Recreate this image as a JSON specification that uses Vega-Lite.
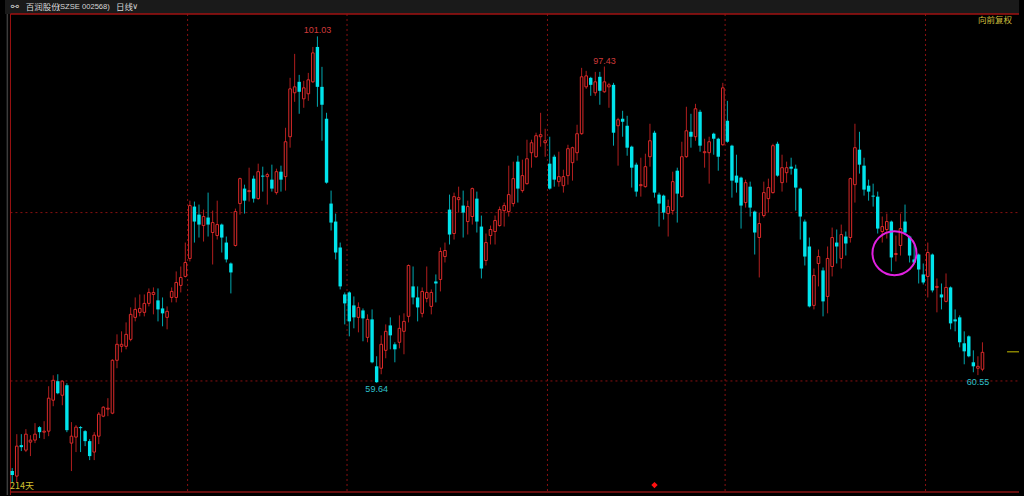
{
"$schema":"https://vega.github.io/schema/vega-lite/v6.json",
"width":1024,"height":496,"autosize":{"type":"fit","contains":"padding"},"padding":0,
"background":"#000000",
"config":{"view":{"stroke":null}},
"datasets":{
"k":[
{"i":0,"o":49.08,"c":48.60,"h":49.44,"l":47.65},
{"i":1,"o":48.48,"c":52.06,"h":53.49,"l":47.65},
{"i":2,"o":52.18,"c":51.94,"h":53.49,"l":51.47},
{"i":3,"o":51.58,"c":53.49,"h":54.09,"l":51.35},
{"i":4,"o":52.54,"c":52.78,"h":53.37,"l":50.87},
{"i":5,"o":52.78,"c":53.49,"h":54.81,"l":52.42},
{"i":6,"o":54.33,"c":53.73,"h":54.45,"l":53.02},
{"i":7,"o":53.73,"c":53.85,"h":55.04,"l":52.90},
{"i":8,"o":53.85,"c":57.79,"h":59.22,"l":53.25},
{"i":9,"o":57.55,"c":59.93,"h":60.53,"l":56.83},
{"i":10,"o":59.82,"c":58.38,"h":60.65,"l":58.26},
{"i":11,"o":58.14,"c":59.82,"h":59.93,"l":56.95},
{"i":12,"o":59.34,"c":53.97,"h":59.58,"l":53.73},
{"i":13,"o":52.42,"c":53.25,"h":54.93,"l":49.08},
{"i":14,"o":53.14,"c":54.33,"h":54.57,"l":51.35},
{"i":15,"o":54.33,"c":54.21,"h":54.45,"l":51.35},
{"i":16,"o":53.85,"c":52.66,"h":53.97,"l":52.06},
{"i":17,"o":52.66,"c":50.87,"h":52.90,"l":50.39},
{"i":18,"o":51.35,"c":53.37,"h":53.73,"l":50.39},
{"i":19,"o":53.25,"c":55.88,"h":56.12,"l":52.30},
{"i":20,"o":55.64,"c":56.71,"h":56.83,"l":55.52},
{"i":21,"o":56.48,"c":56.59,"h":57.79,"l":55.64},
{"i":22,"o":56.00,"c":62.32,"h":62.44,"l":55.88},
{"i":23,"o":62.32,"c":64.23,"h":65.42,"l":61.37},
{"i":24,"o":63.99,"c":64.23,"h":65.78,"l":63.27},
{"i":25,"o":63.99,"c":65.42,"h":66.85,"l":63.63},
{"i":26,"o":64.82,"c":67.81,"h":68.64,"l":64.59},
{"i":27,"o":67.45,"c":68.40,"h":69.83,"l":66.97},
{"i":28,"o":68.05,"c":68.52,"h":70.19,"l":67.57},
{"i":29,"o":68.05,"c":69.12,"h":70.19,"l":67.57},
{"i":30,"o":69.12,"c":70.43,"h":70.91,"l":68.76},
{"i":31,"o":70.19,"c":70.43,"h":71.03,"l":67.81},
{"i":32,"o":69.48,"c":68.40,"h":70.91,"l":66.97},
{"i":33,"o":68.52,"c":67.93,"h":69.83,"l":66.38},
{"i":34,"o":67.45,"c":68.17,"h":68.76,"l":66.02},
{"i":35,"o":69.83,"c":70.55,"h":71.03,"l":69.24},
{"i":36,"o":69.83,"c":71.62,"h":72.94,"l":69.24},
{"i":37,"o":71.27,"c":72.22,"h":73.53,"l":70.43},
{"i":38,"o":72.34,"c":74.01,"h":76.39,"l":72.22},
{"i":39,"o":74.49,"c":80.81,"h":81.40,"l":74.13},
{"i":40,"o":80.69,"c":78.90,"h":81.29,"l":76.39},
{"i":41,"o":79.73,"c":78.54,"h":80.93,"l":76.99},
{"i":42,"o":78.42,"c":79.50,"h":80.33,"l":76.51},
{"i":43,"o":79.38,"c":78.54,"h":82.36,"l":77.11},
{"i":44,"o":77.59,"c":78.78,"h":80.21,"l":73.77},
{"i":45,"o":77.23,"c":78.54,"h":81.40,"l":76.75},
{"i":46,"o":78.54,"c":76.99,"h":78.66,"l":75.20},
{"i":47,"o":76.39,"c":74.37,"h":77.11,"l":74.01},
{"i":48,"o":73.89,"c":72.82,"h":74.01,"l":70.31},
{"i":49,"o":76.04,"c":80.09,"h":80.45,"l":75.92},
{"i":50,"o":81.05,"c":84.03,"h":84.15,"l":79.73},
{"i":51,"o":82.84,"c":81.40,"h":83.31,"l":79.85},
{"i":52,"o":82.48,"c":82.60,"h":85.34,"l":81.29},
{"i":53,"o":84.03,"c":81.64,"h":84.39,"l":81.17},
{"i":54,"o":81.64,"c":84.86,"h":85.82,"l":81.52},
{"i":55,"o":84.39,"c":84.27,"h":85.46,"l":82.48},
{"i":56,"o":84.27,"c":84.51,"h":84.74,"l":80.93},
{"i":57,"o":83.91,"c":82.84,"h":85.70,"l":82.48},
{"i":58,"o":82.36,"c":84.86,"h":85.22,"l":82.12},
{"i":59,"o":84.86,"c":83.91,"h":85.58,"l":82.48},
{"i":60,"o":84.27,"c":88.44,"h":90.11,"l":82.60},
{"i":61,"o":89.04,"c":94.76,"h":96.08,"l":87.73},
{"i":62,"o":94.29,"c":95.00,"h":98.94,"l":93.21},
{"i":63,"o":95.60,"c":94.41,"h":96.43,"l":91.78},
{"i":64,"o":93.57,"c":94.88,"h":95.72,"l":92.50},
{"i":65,"o":94.17,"c":95.84,"h":96.67,"l":93.33},
{"i":66,"o":95.60,"c":99.06,"h":99.77,"l":95.48},
{"i":67,"o":99.77,"c":95.00,"h":101.03,"l":92.62},
{"i":68,"o":95.00,"c":92.86,"h":97.39,"l":88.56},
{"i":69,"o":91.19,"c":83.55,"h":91.90,"l":83.43},
{"i":70,"o":81.05,"c":78.78,"h":82.60,"l":77.83},
{"i":71,"o":78.90,"c":75.20,"h":79.85,"l":74.37},
{"i":72,"o":75.80,"c":71.15,"h":76.39,"l":70.79},
{"i":73,"o":70.19,"c":69.12,"h":70.43,"l":66.61},
{"i":74,"o":70.43,"c":66.97,"h":70.55,"l":65.18},
{"i":75,"o":68.88,"c":67.45,"h":69.95,"l":66.14},
{"i":76,"o":67.45,"c":68.64,"h":69.24,"l":65.66},
{"i":77,"o":68.28,"c":67.33,"h":68.52,"l":64.59},
{"i":78,"o":65.06,"c":67.21,"h":67.81,"l":64.47},
{"i":79,"o":67.21,"c":62.08,"h":68.40,"l":61.96},
{"i":80,"o":61.60,"c":59.70,"h":62.80,"l":59.64},
{"i":81,"o":61.37,"c":64.23,"h":65.30,"l":60.65},
{"i":82,"o":63.51,"c":65.78,"h":66.61,"l":62.56},
{"i":83,"o":66.49,"c":65.30,"h":67.45,"l":63.63},
{"i":84,"o":64.23,"c":63.63,"h":64.47,"l":62.08},
{"i":85,"o":64.47,"c":66.14,"h":67.69,"l":63.75},
{"i":86,"o":65.78,"c":66.97,"h":67.93,"l":63.04},
{"i":87,"o":67.57,"c":73.65,"h":73.77,"l":66.85},
{"i":88,"o":71.15,"c":69.83,"h":73.53,"l":69.00},
{"i":89,"o":69.83,"c":68.64,"h":71.15,"l":66.97},
{"i":90,"o":67.93,"c":70.55,"h":71.03,"l":67.45},
{"i":91,"o":69.72,"c":70.43,"h":73.53,"l":69.24},
{"i":92,"o":68.76,"c":70.43,"h":70.79,"l":67.81},
{"i":93,"o":71.74,"c":71.50,"h":72.58,"l":69.24},
{"i":94,"o":71.98,"c":75.32,"h":75.80,"l":70.55},
{"i":95,"o":74.72,"c":75.44,"h":76.39,"l":74.01},
{"i":96,"o":80.33,"c":77.35,"h":82.12,"l":76.16},
{"i":97,"o":77.47,"c":81.88,"h":82.36,"l":76.75},
{"i":98,"o":81.52,"c":81.76,"h":83.07,"l":79.97},
{"i":99,"o":80.81,"c":79.97,"h":82.60,"l":76.99},
{"i":100,"o":78.90,"c":80.69,"h":81.40,"l":77.35},
{"i":101,"o":79.50,"c":82.84,"h":82.96,"l":78.54},
{"i":102,"o":81.64,"c":78.90,"h":82.48,"l":77.59},
{"i":103,"o":78.30,"c":73.29,"h":79.62,"l":72.10},
{"i":104,"o":74.25,"c":76.39,"h":77.47,"l":73.65},
{"i":105,"o":77.23,"c":77.95,"h":78.42,"l":76.16},
{"i":106,"o":77.71,"c":79.02,"h":79.62,"l":76.16},
{"i":107,"o":78.42,"c":80.33,"h":80.69,"l":78.30},
{"i":108,"o":80.21,"c":80.81,"h":81.17,"l":78.30},
{"i":109,"o":80.09,"c":82.12,"h":85.58,"l":79.50},
{"i":110,"o":81.05,"c":84.03,"h":86.06,"l":80.69},
{"i":111,"o":86.06,"c":82.84,"h":86.77,"l":81.17},
{"i":112,"o":82.60,"c":84.39,"h":86.30,"l":82.36},
{"i":113,"o":83.43,"c":86.41,"h":88.68,"l":83.31},
{"i":114,"o":87.13,"c":88.32,"h":88.68,"l":85.34},
{"i":115,"o":86.65,"c":89.16,"h":89.52,"l":86.53},
{"i":116,"o":89.04,"c":89.28,"h":91.90,"l":87.85},
{"i":117,"o":88.32,"c":88.56,"h":89.99,"l":86.65},
{"i":118,"o":85.82,"c":82.84,"h":89.04,"l":82.72},
{"i":119,"o":86.65,"c":83.91,"h":86.89,"l":83.07},
{"i":120,"o":83.67,"c":84.27,"h":87.25,"l":83.07},
{"i":121,"o":83.19,"c":84.27,"h":85.10,"l":82.36},
{"i":122,"o":84.39,"c":87.61,"h":88.08,"l":83.31},
{"i":123,"o":85.94,"c":87.73,"h":87.85,"l":83.79},
{"i":124,"o":87.13,"c":89.40,"h":90.47,"l":86.18},
{"i":125,"o":89.40,"c":96.20,"h":97.27,"l":89.28},
{"i":126,"o":95.00,"c":96.31,"h":96.91,"l":94.76},
{"i":127,"o":96.08,"c":95.24,"h":96.20,"l":93.93},
{"i":128,"o":94.29,"c":95.60,"h":96.79,"l":93.93},
{"i":129,"o":96.20,"c":94.53,"h":96.79,"l":92.86},
{"i":130,"o":94.41,"c":95.60,"h":97.43,"l":94.29},
{"i":131,"o":95.00,"c":95.24,"h":95.48,"l":92.50},
{"i":132,"o":95.24,"c":89.52,"h":95.48,"l":87.97},
{"i":133,"o":90.35,"c":91.07,"h":91.30,"l":85.58},
{"i":134,"o":91.19,"c":90.83,"h":92.14,"l":89.04},
{"i":135,"o":90.35,"c":87.73,"h":91.54,"l":86.77},
{"i":136,"o":87.85,"c":85.34,"h":87.97,"l":82.96},
{"i":137,"o":85.70,"c":82.48,"h":85.94,"l":81.88},
{"i":138,"o":83.19,"c":83.31,"h":86.53,"l":81.88},
{"i":139,"o":83.07,"c":85.46,"h":87.01,"l":82.96},
{"i":140,"o":86.65,"c":88.56,"h":90.59,"l":85.46},
{"i":141,"o":89.52,"c":82.36,"h":89.75,"l":81.76},
{"i":142,"o":82.12,"c":81.05,"h":82.36,"l":78.30},
{"i":143,"o":82.00,"c":79.97,"h":82.12,"l":79.14},
{"i":144,"o":79.85,"c":80.69,"h":81.52,"l":77.11},
{"i":145,"o":80.21,"c":83.67,"h":84.86,"l":79.73},
{"i":146,"o":84.98,"c":82.24,"h":85.34,"l":78.78},
{"i":147,"o":81.88,"c":86.65,"h":88.44,"l":81.76},
{"i":148,"o":86.65,"c":89.75,"h":92.62,"l":86.53},
{"i":149,"o":89.63,"c":89.04,"h":91.78,"l":87.73},
{"i":150,"o":89.04,"c":92.38,"h":92.97,"l":88.56},
{"i":151,"o":92.02,"c":87.97,"h":92.26,"l":87.25},
{"i":152,"o":87.13,"c":87.25,"h":88.80,"l":85.34},
{"i":153,"o":87.13,"c":88.44,"h":89.04,"l":83.43},
{"i":154,"o":89.40,"c":88.80,"h":89.52,"l":86.89},
{"i":155,"o":88.80,"c":86.65,"h":88.92,"l":84.98},
{"i":156,"o":88.08,"c":94.88,"h":95.48,"l":87.97},
{"i":157,"o":90.95,"c":88.44,"h":93.33,"l":88.32},
{"i":158,"o":87.97,"c":83.79,"h":88.08,"l":81.76},
{"i":159,"o":84.39,"c":83.55,"h":86.89,"l":82.36},
{"i":160,"o":84.15,"c":80.81,"h":84.27,"l":78.06},
{"i":161,"o":81.17,"c":83.55,"h":83.91,"l":80.57},
{"i":162,"o":83.07,"c":80.57,"h":83.67,"l":79.50},
{"i":163,"o":80.09,"c":77.59,"h":80.21,"l":74.96},
{"i":164,"o":76.99,"c":78.66,"h":79.97,"l":72.22},
{"i":165,"o":79.62,"c":82.36,"h":83.67,"l":79.38},
{"i":166,"o":81.64,"c":82.96,"h":84.03,"l":79.97},
{"i":167,"o":82.36,"c":87.97,"h":88.20,"l":82.24},
{"i":168,"o":88.20,"c":84.39,"h":88.44,"l":84.27},
{"i":169,"o":83.55,"c":85.34,"h":86.89,"l":82.48},
{"i":170,"o":84.74,"c":85.34,"h":86.06,"l":83.55},
{"i":171,"o":85.46,"c":85.22,"h":86.53,"l":84.51},
{"i":172,"o":85.22,"c":82.96,"h":85.70,"l":80.21},
{"i":173,"o":82.84,"c":79.50,"h":82.96,"l":76.75},
{"i":174,"o":78.90,"c":74.72,"h":79.14,"l":73.65},
{"i":175,"o":75.92,"c":68.76,"h":76.99,"l":68.64},
{"i":176,"o":68.88,"c":72.46,"h":73.29,"l":68.40},
{"i":177,"o":73.89,"c":74.72,"h":75.56,"l":71.15},
{"i":178,"o":73.06,"c":69.36,"h":73.41,"l":67.57},
{"i":179,"o":69.95,"c":74.49,"h":75.92,"l":67.93},
{"i":180,"o":73.53,"c":76.99,"h":78.18,"l":72.34},
{"i":181,"o":76.39,"c":75.92,"h":77.95,"l":73.89},
{"i":182,"o":74.49,"c":77.35,"h":78.54,"l":73.29},
{"i":183,"o":77.11,"c":76.28,"h":77.71,"l":74.84},
{"i":184,"o":76.99,"c":84.03,"h":84.15,"l":76.39},
{"i":185,"o":83.31,"c":87.73,"h":90.59,"l":81.17},
{"i":186,"o":87.49,"c":85.70,"h":89.63,"l":84.63},
{"i":187,"o":85.58,"c":82.72,"h":86.53,"l":82.00},
{"i":188,"o":83.19,"c":82.48,"h":83.91,"l":81.40},
{"i":189,"o":82.00,"c":81.88,"h":83.43,"l":80.69},
{"i":190,"o":81.88,"c":78.06,"h":82.48,"l":77.47},
{"i":191,"o":77.71,"c":78.30,"h":79.50,"l":76.39},
{"i":192,"o":77.95,"c":78.90,"h":79.85,"l":76.87},
{"i":193,"o":78.90,"c":74.61,"h":79.02,"l":72.94},
{"i":194,"o":74.96,"c":75.08,"h":77.23,"l":74.13},
{"i":195,"o":76.04,"c":78.06,"h":79.85,"l":74.84},
{"i":196,"o":78.90,"c":77.59,"h":80.93,"l":77.35},
{"i":197,"o":77.11,"c":74.84,"h":77.23,"l":74.01},
{"i":198,"o":74.37,"c":74.01,"h":76.16,"l":73.77},
{"i":199,"o":74.96,"c":73.17,"h":75.08,"l":71.50},
{"i":200,"o":72.58,"c":71.62,"h":73.89,"l":71.38},
{"i":201,"o":72.34,"c":75.20,"h":76.39,"l":69.83},
{"i":202,"o":74.96,"c":70.67,"h":75.08,"l":70.43},
{"i":203,"o":71.03,"c":71.15,"h":72.10,"l":68.05},
{"i":204,"o":70.19,"c":69.83,"h":71.50,"l":68.40},
{"i":205,"o":69.36,"c":71.03,"h":72.70,"l":69.24},
{"i":206,"o":71.03,"c":66.73,"h":71.15,"l":66.02},
{"i":207,"o":67.21,"c":66.97,"h":68.40,"l":65.78},
{"i":208,"o":67.45,"c":64.47,"h":67.69,"l":63.87},
{"i":209,"o":64.35,"c":63.39,"h":65.78,"l":61.84},
{"i":210,"o":65.18,"c":62.80,"h":65.30,"l":62.68},
{"i":211,"o":62.08,"c":61.60,"h":63.51,"l":60.89},
{"i":212,"o":61.37,"c":61.60,"h":62.80,"l":60.55},
{"i":213,"o":61.25,"c":63.27,"h":64.47,"l":61.01}
],
"vgrid":[{"i":38.5},{"i":73.5},{"i":117.5},{"i":156.5},{"i":200.5}],
"hgrid":[{"p":79.97},{"p":59.85}],
"hi":[{"i":67,"v":101.03},{"i":130,"v":97.43}],
"lo":[{"i":80,"v":59.64},{"i":212,"v":60.55}]
},
"layer":[
{"data":{"values":[{}]},"mark":{"type":"rect","color":"#1a1a1a"},
 "encoding":{"x":{"datum":-1.587,"type":"quantitative","scale":{"domain":[-1.587,221.02],"nice":false,"zero":false},"axis":null},
 "x2":{"datum":221.02},
 "y":{"datum":105.38,"type":"quantitative","scale":{"domain":[46.22,105.38],"nice":false,"zero":false},"axis":null},
 "y2":{"datum":103.71}}},
{"data":{"name":"hgrid"},"mark":{"type":"rule","color":"#8a1010","strokeDash":[2,3],"strokeWidth":1},
 "encoding":{"x":{"datum":-0.39,"type":"quantitative","scale":{"domain":[-1.587,221.02],"nice":false,"zero":false},"axis":null},
 "x2":{"datum":221.02},
 "y":{"field":"p","type":"quantitative","scale":{"domain":[46.22,105.38],"nice":false,"zero":false},"axis":null}}},
{"data":{"name":"vgrid"},"mark":{"type":"rule","color":"#8a1010","strokeDash":[2,3],"strokeWidth":1},
 "encoding":{"x":{"field":"i","type":"quantitative","scale":{"domain":[-1.587,221.02],"nice":false,"zero":false},"axis":null},
 "y":{"datum":103.71,"type":"quantitative","scale":{"domain":[46.22,105.38],"nice":false,"zero":false},"axis":null},
 "y2":{"datum":46.57}}},
{"data":{"values":[{}]},"mark":{"type":"rule","color":"#a01212","strokeWidth":1.5},
 "encoding":{"x":{"datum":-0.39,"type":"quantitative","scale":{"domain":[-1.587,221.02],"nice":false,"zero":false},"axis":null},
 "x2":{"datum":221.02},
 "y":{"datum":103.71,"type":"quantitative","scale":{"domain":[46.22,105.38],"nice":false,"zero":false},"axis":null}}},
{"data":{"values":[{}]},"mark":{"type":"rule","color":"#8a1515","strokeWidth":1.5},
 "encoding":{"x":{"datum":-0.39,"type":"quantitative","scale":{"domain":[-1.587,221.02],"nice":false,"zero":false},"axis":null},
 "x2":{"datum":221.02},
 "y":{"datum":46.57,"type":"quantitative","scale":{"domain":[46.22,105.38],"nice":false,"zero":false},"axis":null}}},
{"data":{"values":[{}]},"mark":{"type":"rule","color":"#a01212","strokeWidth":1},
 "encoding":{"x":{"datum":-0.39,"type":"quantitative","scale":{"domain":[-1.587,221.02],"nice":false,"zero":false},"axis":null},
 "y":{"datum":103.71,"type":"quantitative","scale":{"domain":[46.22,105.38],"nice":false,"zero":false},"axis":null},
 "y2":{"datum":46.22}}},
{"data":{"values":[{}]},"mark":{"type":"rule","color":"#3c3c3c","strokeWidth":1.5},
 "encoding":{"x":{"datum":-1.07,"type":"quantitative","scale":{"domain":[-1.587,221.02],"nice":false,"zero":false},"axis":null},
 "y":{"datum":103.71,"type":"quantitative","scale":{"domain":[46.22,105.38],"nice":false,"zero":false},"axis":null},
 "y2":{"datum":46.22}}},
{"data":{"name":"k"},"transform":[{"filter":"datum.c >= datum.o"}],"mark":{"type":"rule","color":"#b01e1e","strokeWidth":1},
 "encoding":{"x":{"field":"i","type":"quantitative","scale":{"domain":[-1.587,221.02],"nice":false,"zero":false},"axis":null},
 "y":{"field":"l","type":"quantitative","scale":{"domain":[46.22,105.38],"nice":false,"zero":false},"axis":null},
 "y2":{"field":"h"}}},
{"data":{"name":"k"},"transform":[{"filter":"datum.c < datum.o"}],"mark":{"type":"rule","color":"#00a8b0","strokeWidth":1},
 "encoding":{"x":{"field":"i","type":"quantitative","scale":{"domain":[-1.587,221.02],"nice":false,"zero":false},"axis":null},
 "y":{"field":"l","type":"quantitative","scale":{"domain":[46.22,105.38],"nice":false,"zero":false},"axis":null},
 "y2":{"field":"h"}}},
{"data":{"name":"k"},"transform":[{"filter":"datum.c >= datum.o"}],"mark":{"type":"bar","size":2.6,"fill":"#000000","stroke":"#dc2a2a","strokeWidth":1},
 "encoding":{"x":{"field":"i","type":"quantitative","scale":{"domain":[-1.587,221.02],"nice":false,"zero":false},"axis":null},
 "y":{"field":"o","type":"quantitative","scale":{"domain":[46.22,105.38],"nice":false,"zero":false},"axis":null},
 "y2":{"field":"c"}}},
{"data":{"name":"k"},"transform":[{"filter":"datum.c < datum.o"}],"mark":{"type":"bar","size":3.4,"color":"#00e4ec"},
 "encoding":{"x":{"field":"i","type":"quantitative","scale":{"domain":[-1.587,221.02],"nice":false,"zero":false},"axis":null},
 "y":{"field":"o","type":"quantitative","scale":{"domain":[46.22,105.38],"nice":false,"zero":false},"axis":null},
 "y2":{"field":"c"}}},
{"data":{"name":"hi"},"mark":{"type":"text","font":"Liberation Sans","fontSize":9,"color":"#d03a3a","dy":-6,"baseline":"middle"},
 "encoding":{"x":{"field":"i","type":"quantitative","scale":{"domain":[-1.587,221.02],"nice":false,"zero":false},"axis":null},
 "y":{"field":"v","type":"quantitative","scale":{"domain":[46.22,105.38],"nice":false,"zero":false},"axis":null},
 "text":{"field":"v","type":"quantitative","format":".2f"}}},
{"data":{"name":"lo"},"mark":{"type":"text","font":"Liberation Sans","fontSize":9,"color":"#2ec0cc","dy":6.5,"baseline":"middle"},
 "encoding":{"x":{"field":"i","type":"quantitative","scale":{"domain":[-1.587,221.02],"nice":false,"zero":false},"axis":null},
 "y":{"field":"v","type":"quantitative","scale":{"domain":[46.22,105.38],"nice":false,"zero":false},"axis":null},
 "text":{"field":"v","type":"quantitative","format":".2f"}}},
{"data":{"values":[{}]},"mark":{"type":"point","shape":"circle","size":1936,"filled":false,"stroke":"#e020e0","strokeWidth":2,"opacity":1},
 "encoding":{"x":{"datum":193.68,"type":"quantitative","scale":{"domain":[-1.587,221.02],"nice":false,"zero":false},"axis":null},
 "y":{"datum":75.12,"type":"quantitative","scale":{"domain":[46.22,105.38],"nice":false,"zero":false},"axis":null}}},
{"data":{"values":[{}]},"mark":{"type":"point","shape":"diamond","size":40,"filled":true,"color":"#ff1010","opacity":1},
 "encoding":{"x":{"datum":141,"type":"quantitative","scale":{"domain":[-1.587,221.02],"nice":false,"zero":false},"axis":null},
 "y":{"datum":47.41,"type":"quantitative","scale":{"domain":[46.22,105.38],"nice":false,"zero":false},"axis":null}}},
{"data":{"values":[{}]},"mark":{"type":"rule","color":"#c8c000","strokeWidth":1},
 "encoding":{"x":{"datum":218.4,"type":"quantitative","scale":{"domain":[-1.587,221.02],"nice":false,"zero":false},"axis":null},
 "x2":{"datum":221.02},
 "y":{"datum":63.33,"type":"quantitative","scale":{"domain":[46.22,105.38],"nice":false,"zero":false},"axis":null}}},
{"data":{"values":[{}]},"mark":{"type":"text","text":"⚯","font":"DejaVu Sans","fontSize":10,"color":"#d0d0d0","align":"center","baseline":"middle"},
 "encoding":{"x":{"datum":0.59,"type":"quantitative","scale":{"domain":[-1.587,221.02],"nice":false,"zero":false},"axis":null},
 "y":{"datum":104.55,"type":"quantitative","scale":{"domain":[46.22,105.38],"nice":false,"zero":false},"axis":null}}},
{"data":{"values":[{}]},"mark":{"type":"text","text":"百润股份","font":"Noto Sans CJK SC","fontSize":8.5,"color":"#d8d8d8","align":"left","baseline":"middle"},
 "encoding":{"x":{"datum":2.98,"type":"quantitative","scale":{"domain":[-1.587,221.02],"nice":false,"zero":false},"axis":null},
 "y":{"datum":104.55,"type":"quantitative","scale":{"domain":[46.22,105.38],"nice":false,"zero":false},"axis":null}}},
{"data":{"values":[{}]},"mark":{"type":"text","text":"(SZSE 002568)","font":"Liberation Sans","fontSize":7.6,"color":"#d8d8d8","align":"left","baseline":"middle"},
 "encoding":{"x":{"datum":9.94,"type":"quantitative","scale":{"domain":[-1.587,221.02],"nice":false,"zero":false},"axis":null},
 "y":{"datum":104.55,"type":"quantitative","scale":{"domain":[46.22,105.38],"nice":false,"zero":false},"axis":null}}},
{"data":{"values":[{}]},"mark":{"type":"text","text":"日线","font":"Noto Sans CJK SC","fontSize":8.5,"color":"#d8d8d8","align":"left","baseline":"middle"},
 "encoding":{"x":{"datum":22.76,"type":"quantitative","scale":{"domain":[-1.587,221.02],"nice":false,"zero":false},"axis":null},
 "y":{"datum":104.55,"type":"quantitative","scale":{"domain":[46.22,105.38],"nice":false,"zero":false},"axis":null}}},
{"data":{"values":[{}]},"mark":{"type":"text","text":"∨","font":"DejaVu Sans","fontSize":8,"color":"#d8d8d8","align":"center","baseline":"middle"},
 "encoding":{"x":{"datum":27.0,"type":"quantitative","scale":{"domain":[-1.587,221.02],"nice":false,"zero":false},"axis":null},
 "y":{"datum":104.55,"type":"quantitative","scale":{"domain":[46.22,105.38],"nice":false,"zero":false},"axis":null}}},
{"data":{"values":[{}]},"mark":{"type":"text","text":"向前复权","font":"Noto Sans CJK SC","fontSize":8.5,"color":"#cdbd3c","align":"right","baseline":"middle"},
 "encoding":{"x":{"datum":219.5,"type":"quantitative","scale":{"domain":[-1.587,221.02],"nice":false,"zero":false},"axis":null},
 "y":{"datum":102.94,"type":"quantitative","scale":{"domain":[46.22,105.38],"nice":false,"zero":false},"axis":null}}},
{"data":{"values":[{}]},"mark":{"type":"text","text":"214天","font":"Noto Sans CJK SC","fontSize":9,"color":"#d0c030","align":"left","baseline":"middle"},
 "encoding":{"x":{"datum":-0.5,"type":"quantitative","scale":{"domain":[-1.587,221.02],"nice":false,"zero":false},"axis":null},
 "y":{"datum":47.29,"type":"quantitative","scale":{"domain":[46.22,105.38],"nice":false,"zero":false},"axis":null}}}
]
}
